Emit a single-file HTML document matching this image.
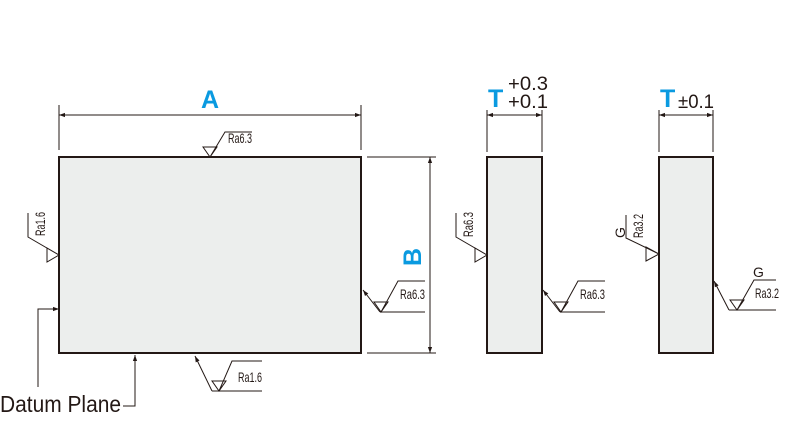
<!DOCTYPE html>
<html><head><style>body{margin:0;background:#fff}svg{display:block}</style></head><body>
<svg width="800" height="432" viewBox="0 0 800 432" xmlns="http://www.w3.org/2000/svg" font-family="Liberation Sans, sans-serif">
<defs>
<marker id="ar" viewBox="0 0 10 10" refX="10" refY="5" markerWidth="10" markerHeight="6" orient="auto-start-reverse" markerUnits="userSpaceOnUse"><path d="M0,1.5 L10,5 L0,8.5z" fill="#231815"/></marker>
</defs>
<g fill="#eceeed" stroke="#231815" stroke-width="2">
<rect x="59" y="157" width="302" height="196"/>
<rect x="487" y="157" width="55" height="196"/>
<rect x="659" y="157" width="54" height="196"/>
</g>
<g stroke="#231815" stroke-width="1" fill="none">
<line x1="59" y1="105" x2="59" y2="150"/><line x1="361" y1="105" x2="361" y2="150"/>
<line x1="59" y1="115" x2="361" y2="115" marker-start="url(#ar)" marker-end="url(#ar)"/>
<line x1="367" y1="157" x2="436" y2="157"/><line x1="367" y1="353" x2="436" y2="353"/>
<line x1="430" y1="157" x2="430" y2="353" marker-start="url(#ar)" marker-end="url(#ar)"/>
<line x1="487" y1="110" x2="487" y2="152"/><line x1="542" y1="110" x2="542" y2="152"/>
<line x1="487" y1="115" x2="542" y2="115" marker-start="url(#ar)" marker-end="url(#ar)"/>
<line x1="659" y1="110" x2="659" y2="152"/><line x1="713" y1="110" x2="713" y2="152"/>
<line x1="659" y1="115" x2="713" y2="115" marker-start="url(#ar)" marker-end="url(#ar)"/>
<!-- top Ra6.3 -->
<path d="M203,147 L217,147 L210,157 Z M210,157 L225,132 L252,132"/>
<!-- left Ra1.6 -->
<path d="M47,248 L47,262 L59,255 Z M59,255 L28,237 L28,213"/>
<!-- datum -->
<path d="M38,387 L38,309 L59,309" marker-end="url(#ar)"/>
<path d="M123,406 L135,406 L135,355" marker-end="url(#ar)"/>
<!-- bottom Ra1.6 -->
<path d="M212,391 L195,356" marker-end="url(#ar)"/>
<path d="M212,391 L262,391 M212,381 L226,381 L219,391 Z M219,391 L232,361 L262,361"/>
<!-- right main -->
<path d="M380,312 L363,290" marker-end="url(#ar)"/>
<path d="M380,312 L425,312 M374,302 L388,302 L381,312 Z M381,312 L398,281 L425,281"/>
<!-- plate2 right -->
<path d="M560,312 L543,290" marker-end="url(#ar)"/>
<path d="M560,312 L605,312 M554,302 L568,302 L561,312 Z M561,312 L578,281 L605,281"/>
<!-- plate2 left -->
<path d="M475,248 L475,262 L487,255 Z M487,255 L456,237 L456,213"/>
<!-- plate3 left -->
<path d="M646,247 L646,261 L659,254 Z M659,254 L626,238 L626,215"/>
<!-- plate3 right -->
<path d="M729,310 L714,281" marker-end="url(#ar)"/>
<path d="M729,310 L776,310 M730,300 L744,300 L737,310 Z M737,310 L754,280 L776,280"/>
</g>
<g fill="#231815" font-size="14">
<text x="228" y="143" textLength="24" lengthAdjust="spacingAndGlyphs">Ra6.3</text>
<text x="400" y="299" textLength="25" lengthAdjust="spacingAndGlyphs">Ra6.3</text>
<text x="580" y="299" textLength="25" lengthAdjust="spacingAndGlyphs">Ra6.3</text>
<text x="238" y="382" textLength="24" lengthAdjust="spacingAndGlyphs">Ra1.6</text>
<text x="755" y="298" textLength="24" lengthAdjust="spacingAndGlyphs">Ra3.2</text>
<text x="753" y="277">G</text>
<text transform="translate(45,236) rotate(-90)" textLength="24" lengthAdjust="spacingAndGlyphs">Ra1.6</text>
<text transform="translate(473,237) rotate(-90)" textLength="25" lengthAdjust="spacingAndGlyphs">Ra6.3</text>
<text transform="translate(643,238) rotate(-90)" textLength="24" lengthAdjust="spacingAndGlyphs">Ra3.2</text>
<text transform="translate(625,238) rotate(-90)">G</text>
<text x="0" y="412" font-size="23" textLength="121" lengthAdjust="spacingAndGlyphs">Datum Plane</text>
<text x="508" y="90" font-size="19" textLength="40" lengthAdjust="spacingAndGlyphs">+0.3</text>
<text x="508" y="108" font-size="19" textLength="40" lengthAdjust="spacingAndGlyphs">+0.1</text>
<text x="678" y="108" font-size="19" textLength="36" lengthAdjust="spacingAndGlyphs">±0.1</text>
</g>
<g fill="#0a9ae0" font-weight="bold" font-size="25">
<text x="201" y="108">A</text>
<text x="488" y="107">T</text>
<text x="660" y="107">T</text>
<text transform="translate(421,266) rotate(-90)">B</text>
</g>
</svg>
</body></html>
